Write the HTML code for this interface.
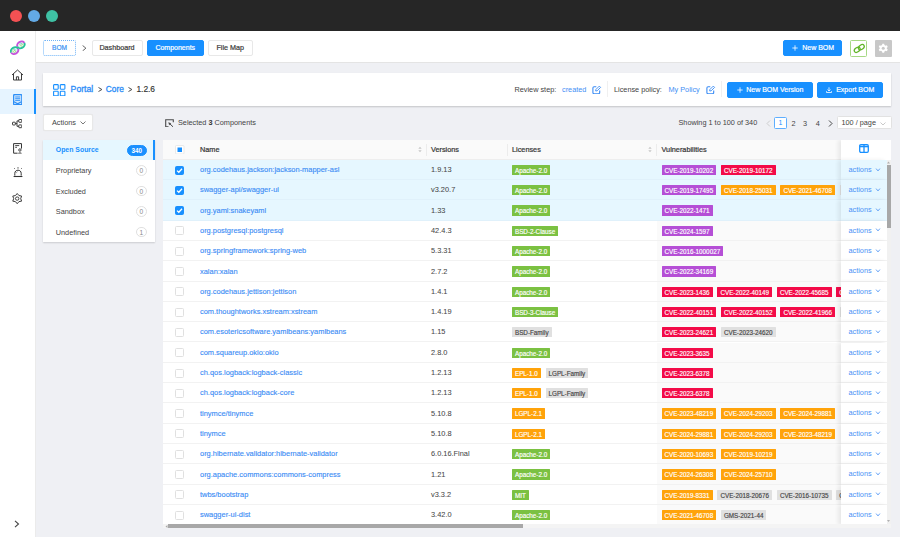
<!DOCTYPE html>
<html><head><meta charset="utf-8">
<style>
*{box-sizing:border-box;margin:0;padding:0}
html,body{width:900px;height:537px;overflow:hidden;background:#eff0f4;font-family:"Liberation Sans",sans-serif;color:#333}
.abs{position:absolute}
#top{position:absolute;left:0;top:0;width:900px;height:30.6px;background:#262626}
.dot{position:absolute;top:10.2px;width:12px;height:12px;border-radius:50%}
#side{position:absolute;left:0;top:30.6px;width:36px;height:507px;background:#fff;border-right:1.5px solid #ebebeb;z-index:2}
#hdr{position:absolute;left:35px;top:31px;width:865px;height:32px;background:#fff;border-bottom:1px solid #e4e4e4}
.btn{position:absolute;height:16.5px;border:1px solid #e8e8e8;border-radius:2px;background:#fff;font-size:7.2px;font-weight:normal;-webkit-text-stroke:0.2px currentColor;color:#3a3a3a;text-align:center;line-height:14.5px;white-space:nowrap}
.bp{background:#1890ff;border-color:#1890ff;color:#fff;font-size:7px}
#card{position:absolute;left:43px;top:73px;width:848px;height:33px;background:#fff;box-shadow:0 1px 1.5px rgba(0,0,0,0.18)}
.txt{position:absolute;white-space:nowrap;font-size:7.3px;line-height:10px}
.lnk{color:#3f8ff5}
#cats{position:absolute;left:43px;top:139.5px;width:112px;height:102.5px;background:#fff;box-shadow:0 1px 1.5px rgba(0,0,0,0.15)}
.cat{position:absolute;left:0;width:112px;height:20.5px;font-size:7.3px;line-height:22px;color:#444;padding-left:12.8px}
.cat.on{background:#e6f7ff;color:#1890ff;font-weight:bold;font-size:6.9px;line-height:20.3px;border-right:2px solid #1890ff}
.cnt{position:absolute;right:8.5px;top:5.3px;line-height:9.6px!important;min-width:10.5px;height:10.5px;border:1px solid #e0e0e0;border-radius:6px;font-size:6.6px;line-height:8.5px;text-align:center;color:#888;font-weight:normal}
.cat.on .cnt{background:#1890ff;border-color:#1890ff;color:#fff;width:19.5px;right:6.5px;font-weight:bold;font-size:6.3px;top:5.5px}
#tbl{position:absolute;left:163px;top:139.5px;width:728px;height:388.5px;background:#fff;overflow:hidden}
#thead{position:absolute;left:0;top:0;width:728px;height:20.3px;background:#fafafa;border-bottom:1px solid #eeeeee}
.th{position:absolute;top:0;height:19.8px;line-height:20.3px;font-size:7.3px;font-weight:normal;-webkit-text-stroke:0.22px #383838;color:#383838;white-space:nowrap}
.vd{position:absolute;top:4px;width:1px;height:12px;background:#ececec}
.row{position:absolute;left:163px;width:724px;height:20.3px;background:#fff;border-bottom:1px solid #f2f2f2;font-size:7.3px;white-space:nowrap;overflow:hidden}
.row.sel{background:#e6f7ff;border-bottom-color:#e0f1fb}
.row .vb{position:absolute;left:494px;top:0;width:240px;height:20px;background:#fafafa}
.row.sel .vb{background:#e6f7ff}
.row>div{position:absolute;top:0;height:20px;line-height:20px}
.c0{left:12px}
.c1{left:37px;color:#3a8cf5;margin-top:0.3px;font-size:7.45px;-webkit-text-stroke:0.12px #3a8cf5}
.c2{left:268px;color:#484848;margin-top:0.3px;font-size:7.4px;-webkit-text-stroke:0.05px #484848}
.c3{left:349px}
.c4{left:498.5px}
.cb{position:absolute;top:5.8px;left:0;width:9px;height:9px;border:1px solid #e0e0e0;border-radius:1.5px;background:#fff}
.cb.on{background:#1890ff;border-color:#1890ff}
.cb svg{position:absolute;left:-1px;top:-1px}
.tag{display:inline-block;vertical-align:top;margin-top:5px;height:10.3px;line-height:11.1px;overflow:hidden;font-size:6.3px;padding:0 2.97px;margin-right:4.85px;border-radius:0.5px;color:#fff;-webkit-text-stroke:0.15px #fff}
.tx{-webkit-text-stroke:0.15px #444}
.tg{background:#7bc142}
.tp{background:#b54fd6}
.tr{background:#f30b48}
.to{background:#ffa30a}
.tx{background:#e0e0e0;color:#444}
.arow{position:absolute;left:840.5px;width:46px;height:20.3px;background:#fff;border-bottom:1px solid #f2f2f2;box-shadow:-3px 0 4px rgba(0,0,0,0.07)}
.arow.sel{background:#e6f7ff;border-bottom-color:#e0f1fb}
.act{position:absolute;left:8px;top:0;line-height:20px;font-size:7.3px;color:#4b92f5}
.chev{position:absolute;left:34.2px;top:7.8px}
</style></head><body>
<div id="top">
 <div class="dot" style="left:9.8px;background:#f45153"></div>
 <div class="dot" style="left:28px;background:#63aae6"></div>
 <div class="dot" style="left:46.2px;background:#3fc1a4"></div>
</div>

<div id="side">
 <!-- logo -->
 <svg class="abs" style="left:9.5px;top:9.6px" width="16" height="16" viewBox="0 0 17 17">
 <g transform="rotate(-30 11.6 5.2)">
  <ellipse cx="11.6" cy="5.2" rx="4.2" ry="3.4" fill="#dff3f0"/>
  <path d="M7.4 5.2 A4.2 3.4 0 0 1 15.8 5.2" stroke="#c654dc" stroke-width="2" fill="none"/>
  <path d="M15.8 5.2 A4.2 3.4 0 0 1 7.4 5.2" stroke="#27c39a" stroke-width="2" fill="none"/>
 </g>
 <g transform="rotate(-30 4.9 11.3)">
  <ellipse cx="4.9" cy="11.3" rx="4.2" ry="3.4" fill="#dff3f0"/>
  <path d="M0.7 11.3 A4.2 3.4 0 0 1 9.1 11.3" stroke="#27c39a" stroke-width="2" fill="none"/>
  <path d="M9.1 11.3 A4.2 3.4 0 0 1 0.7 11.3" stroke="#c654dc" stroke-width="2" fill="none"/>
 </g>
 <path d="M10 4.5 L13 7 M12 3.5 L14.5 5.5" stroke="#9be05a" stroke-width="0.9"/>
 <path d="M3.5 10 L6.5 12.6 M2.5 11.5 L5 13.5" stroke="#9be05a" stroke-width="0.9"/>
 <path d="M11 3.2 L12.5 4.5 M4.5 9.5 L6 10.8" stroke="#4aa8f0" stroke-width="0.9"/>
 </svg>
 <!-- home -->
 <svg class="abs" style="left:11px;top:38px" width="13" height="12" viewBox="0 0 13 12">
  <path d="M1 6 L6.5 1 L12 6 M2.5 4.8 V11 H10.5 V4.8 M5.4 11 V7.8 H7.6 V11" stroke="#3a3a3a" stroke-width="1" fill="none" stroke-linejoin="round"/>
 </svg>
 <!-- active -->
 <div class="abs" style="left:0;top:58.3px;width:35.5px;height:24.7px;background:#e6f4ff;border-right:2px solid #1890ff"></div>
 <svg class="abs" style="left:12.8px;top:63.2px" width="9.4" height="11.2" viewBox="0 0 9.4 11.2">
  <rect x="0" y="0" width="9.4" height="11.2" rx="1.3" fill="#2d8ff7"/>
  <rect x="1.2" y="1.2" width="7" height="8.8" rx="0.6" fill="#cfe6fd"/>
  <path d="M2.2 3 H7.2 M2.2 4.7 H7.2 M2.2 6.4 H7.2" stroke="#2d8ff7" stroke-width="0.9"/>
  <path d="M1 7.8 L4.7 9.8 L8.4 7.8" stroke="#2d8ff7" stroke-width="1.1" fill="none"/>
 </svg>
 <!-- tree -->
 <svg class="abs" style="left:12px;top:88.8px" width="10.4" height="9.2" viewBox="0 0 10.4 9.2">
  <rect x="0.5" y="3.2" width="2.8" height="2.8" rx="0.5" stroke="#333" stroke-width="0.95" fill="none"/>
  <rect x="6.8" y="0.5" width="3" height="2.8" rx="0.5" stroke="#333" stroke-width="0.95" fill="none"/>
  <rect x="6.8" y="5.9" width="3" height="2.8" rx="0.5" stroke="#333" stroke-width="0.95" fill="none"/>
  <path d="M3.3 4.6 H5 M5 1.9 V7.3 M5 1.9 H6.8 M5 7.3 H6.8" stroke="#333" stroke-width="0.95" fill="none"/>
 </svg>
 <!-- report -->
 <svg class="abs" style="left:12.8px;top:112.8px" width="9.2" height="10.8" viewBox="0 0 9.2 10.8">
  <path d="M4.6 10.2 H0.6 V0.6 H8.5 V5.6" stroke="#333" stroke-width="1" fill="none"/>
  <path d="M2.2 2.6 H6.2 M2.2 4.3 H4" stroke="#333" stroke-width="0.9" fill="none"/>
  <circle cx="6.9" cy="7" r="1.2" stroke="#333" stroke-width="0.9" fill="none"/>
  <path d="M4.9 10.6 C5 9 8.8 9 8.9 10.6 Z" fill="#333"/>
 </svg>
 <!-- alarm -->
 <svg class="abs" style="left:12.6px;top:136.8px" width="10" height="10.6" viewBox="0 0 10 10.6">
  <path d="M1.8 8.6 V6.4 C1.8 4.3 3.3 3.2 5 3.2 C6.7 3.2 8.2 4.3 8.2 6.4 V8.6" stroke="#333" stroke-width="1" fill="none"/>
  <path d="M3.2 6.2 C3.3 5.2 3.9 4.7 4.7 4.6" stroke="#999" stroke-width="0.8" fill="none"/>
  <path d="M0.6 9.5 H9.4" stroke="#333" stroke-width="1.1" fill="none"/>
  <path d="M5 0.2 V1.6 M1.3 1.3 L2 2 M8.7 1.3 L8 2" stroke="#333" stroke-width="0.9" fill="none"/>
 </svg>
 <!-- gear -->
 <svg class="abs" style="left:12.1px;top:162.2px" width="10.4" height="11.2" viewBox="0 0 10.4 11.2">
  <path d="M5.20 0.50 L6.95 2.57 L9.62 3.05 L8.70 5.60 L9.62 8.15 L6.95 8.63 L5.20 10.70 L3.45 8.63 L0.78 8.15 L1.70 5.60 L0.78 3.05 L3.45 2.57 Z" stroke="#333" stroke-width="0.95" fill="none" stroke-linejoin="round"/>
  <circle cx="5.2" cy="5.6" r="1.7" stroke="#333" stroke-width="0.9" fill="none"/>
 </svg>
 <!-- chevron -->
 <svg class="abs" style="left:14px;top:489px" width="6" height="8" viewBox="0 0 6 8">
  <path d="M1 0.8 L4.5 4 L1 7.2" stroke="#444" stroke-width="1.1" fill="none"/>
 </svg>
</div>

<div id="hdr"></div>
<div class="btn" style="left:43px;top:39.5px;width:33px;height:16.8px;line-height:14.8px;border:1px dotted #6fb3f7;color:#3d93f2;font-size:6.6px">BOM</div>
<svg class="abs" style="left:81.8px;top:44.6px" width="4.6" height="6.4" viewBox="0 0 4.6 6.4"><path d="M0.6 0.5 L3.9 3.2 L0.6 5.9" stroke="#555" stroke-width="0.9" fill="none"/></svg>
<div class="btn" style="left:91.5px;top:39.5px;width:51px">Dashboard</div>
<div class="btn bp" style="left:146.5px;top:39.5px;width:57.5px">Components</div>
<div class="btn" style="left:208px;top:39.5px;width:44.5px">File Map</div>

<div class="btn bp" style="left:783px;top:40px;width:59px;height:16px;line-height:14px">
 <svg style="position:absolute;left:8.2px;top:3.6px" width="6" height="6" viewBox="0 0 6 6"><path d="M3 0.3 V5.7 M0.3 3 H5.7" stroke="#fff" stroke-width="0.8"/></svg>
 <span style="position:absolute;left:18.2px;top:0">New BOM</span>
</div>
<div class="abs" style="left:850px;top:40.2px;width:17.4px;height:17.2px;border:1px solid #a6d884;border-radius:1.5px;background:#fff">
 <svg style="position:absolute;left:1.2px;top:2.2px;overflow:visible" width="13" height="11" viewBox="0 0 12 10">
  <ellipse cx="4.8" cy="6.2" rx="3" ry="2" transform="rotate(-35 4.8 6.2)" stroke="#62b52a" stroke-width="1.15" fill="none"/>
  <ellipse cx="8.6" cy="3.8" rx="3" ry="2" transform="rotate(-35 8.6 3.8)" stroke="#62b52a" stroke-width="1.15" fill="none"/>
 </svg>
</div>
<div class="abs" style="left:875px;top:40px;width:16.5px;height:16.5px;background:#c8c8c8;border-radius:1px">
 <svg style="position:absolute;left:3px;top:3px" width="10.5" height="10.5" viewBox="0 0 13 13">
  <path d="M5.4 1 H7.6 L8 2.6 L9.4 3.4 L11 2.9 L12.1 4.8 L10.9 6 V7 L12.1 8.2 L11 10.1 L9.4 9.6 L8 10.4 L7.6 12 H5.4 L5 10.4 L3.6 9.6 L2 10.1 L0.9 8.2 L2.1 7 V6 L0.9 4.8 L2 2.9 L3.6 3.4 L5 2.6 Z" fill="#fff"/>
  <circle cx="6.5" cy="6.5" r="1.9" fill="#c8c8c8"/>
 </svg>
</div>

<div id="card"></div>
<svg class="abs" style="left:53px;top:83.5px" width="12.5" height="12.5" viewBox="0 0 12.5 12.5">
 <rect x="0.6" y="0.6" width="4.6" height="4.6" rx="0.6" stroke="#1890ff" stroke-width="1.1" fill="none"/>
 <rect x="7.3" y="0.6" width="4.6" height="4.6" rx="0.6" stroke="#1890ff" stroke-width="1.1" fill="none"/>
 <rect x="0.6" y="7.3" width="4.6" height="4.6" rx="0.6" stroke="#1890ff" stroke-width="1.1" fill="none"/>
 <rect x="7.3" y="7.3" width="4.6" height="4.6" rx="0.6" stroke="#1890ff" stroke-width="1.1" fill="none"/>
</svg>
<div class="txt lnk" style="left:70.6px;top:82.8px;font-size:8.7px;line-height:12px;color:#2b8cf7;-webkit-text-stroke:0.3px #2b8cf7">Portal</div>
<svg class="abs" style="left:98px;top:87.4px" width="4.5" height="5" viewBox="0 0 4.5 5"><path d="M0.5 0.5 L3.9 2.5 L0.5 4.5" stroke="#444" stroke-width="0.95" fill="none"/></svg>
<div class="txt lnk" style="left:105.8px;top:82.8px;font-size:8.3px;line-height:12px;color:#2b8cf7;-webkit-text-stroke:0.3px #2b8cf7">Core</div>
<svg class="abs" style="left:127.8px;top:87.4px" width="4.5" height="5" viewBox="0 0 4.5 5"><path d="M0.5 0.5 L3.9 2.5 L0.5 4.5" stroke="#444" stroke-width="0.95" fill="none"/></svg>
<div class="txt" style="left:136.4px;top:82.8px;font-size:8.4px;line-height:12px;color:#333;-webkit-text-stroke:0.15px #333">1.2.6</div>

<div class="txt" style="left:514.5px;top:84.5px;color:#444">Review step:</div>
<div class="txt lnk" style="left:562px;top:84.5px">created</div>
<svg class="abs" style="left:592px;top:84.8px" width="9.5" height="9.5" viewBox="0 0 9.5 9.5"><path d="M4.3 1.7 H2.1 Q0.9 1.7 0.9 2.9 V7.5 Q0.9 8.7 2.1 8.7 H6.5 Q7.7 8.7 7.7 7.5 V5.6" stroke="#3a8cf5" stroke-width="1.1" fill="none"/><path d="M3.7 6 L3.9 4.5 L7.3 1.1 L8.6 2.4 L5.2 5.8 Z" stroke="#3a8cf5" stroke-width="0.9" fill="none" stroke-linejoin="round"/></svg>
<div class="abs" style="left:607px;top:81px;width:1px;height:15.7px;background:#f0f0f0"></div>
<div class="txt" style="left:614px;top:84.5px;color:#444">License policy:</div>
<div class="txt lnk" style="left:668.5px;top:84.5px">My Policy</div>
<svg class="abs" style="left:706px;top:84.8px" width="9.5" height="9.5" viewBox="0 0 9.5 9.5"><path d="M4.3 1.7 H2.1 Q0.9 1.7 0.9 2.9 V7.5 Q0.9 8.7 2.1 8.7 H6.5 Q7.7 8.7 7.7 7.5 V5.6" stroke="#3a8cf5" stroke-width="1.1" fill="none"/><path d="M3.7 6 L3.9 4.5 L7.3 1.1 L8.6 2.4 L5.2 5.8 Z" stroke="#3a8cf5" stroke-width="0.9" fill="none" stroke-linejoin="round"/></svg>
<div class="abs" style="left:720.5px;top:81px;width:1px;height:15.7px;background:#f0f0f0"></div>
<div class="btn bp" style="left:727px;top:81.5px;width:86px;height:16.5px">
 <svg style="position:absolute;left:8.8px;top:4.8px" width="6" height="6" viewBox="0 0 6 6"><path d="M3 0.3 V5.7 M0.3 3 H5.7" stroke="#fff" stroke-width="0.8"/></svg>
 <span style="position:absolute;left:18.2px;top:0">New BOM Version</span>
</div>
<div class="btn bp" style="left:817px;top:81.5px;width:66px;height:16.5px">
 <svg style="position:absolute;left:7.8px;top:4.6px" width="6" height="6" viewBox="0 0 6 6"><path d="M3 0.3 V4 M1.5 2.6 L3 4 L4.5 2.6 M0.5 4.2 V5.5 H5.5 V4.2" stroke="#fff" stroke-width="0.8" fill="none"/></svg>
 <span style="position:absolute;left:18.2px;top:0">Export BOM</span>
</div>

<!-- toolbar -->
<div class="btn" style="left:43px;top:114.2px;width:50px;height:16.6px;line-height:15.6px;font-weight:normal;color:#444;-webkit-text-stroke:0;text-align:left;padding-left:8px;font-size:7.3px;box-shadow:0 0 1px rgba(0,0,0,0.08)">Actions
 <svg style="position:absolute;left:36.3px;top:5.7px" width="6" height="4" viewBox="0 0 6 4"><path d="M0.5 0.5 L3 3 L5.5 0.5" stroke="#555" stroke-width="0.8" fill="none"/></svg>
</div>
<svg class="abs" style="left:165px;top:118.7px" width="9" height="8.5" viewBox="0 0 9 8.5"><path d="M3.5 7.8 H0.7 V0.7 H8.3 V3.2" stroke="#4a4a4a" stroke-width="1.1" fill="none"/><path d="M4 4 L8 7.8" stroke="#4a4a4a" stroke-width="1" fill="none"/><path d="M3.3 3.3 L6.2 4.2 L4.2 6.2 Z" fill="#4a4a4a"/></svg>
<div class="txt" style="left:178px;top:118px;color:#444">Selected <b style="color:#333">3</b> Components</div>

<div class="txt" style="left:678.5px;top:118px;color:#444">Showing 1 to 100 of 340</div>
<svg class="abs" style="left:766px;top:119.5px" width="5" height="7" viewBox="0 0 5 7"><path d="M4 0.5 L1 3.5 L4 6.5" stroke="#c4c4c4" stroke-width="0.8" fill="none"/></svg>
<div class="abs" style="left:774.2px;top:116.8px;width:12.6px;height:12.6px;border:1px solid #5eaeff;border-radius:1.5px;background:#fff;font-size:7px;line-height:10.5px;text-align:center;color:#1890ff">1</div>
<div class="txt" style="left:791.6px;top:118.5px;color:#444;font-size:7.3px">2</div>
<div class="txt" style="left:803px;top:118.5px;color:#444;font-size:7.3px">3</div>
<div class="txt" style="left:815.8px;top:118.5px;color:#444;font-size:7.3px">4</div>
<svg class="abs" style="left:827.5px;top:119.5px" width="5" height="7" viewBox="0 0 5 7"><path d="M1 0.5 L4 3.5 L1 6.5" stroke="#333" stroke-width="0.9" fill="none"/></svg>
<div class="abs" style="left:837.3px;top:116.2px;width:54.5px;height:12.8px;border:1px solid #e2e2e2;border-radius:1.5px;background:#fff"></div>
<div class="txt" style="left:841.5px;top:118px;color:#444">100 / page</div>
<svg class="abs" style="left:880px;top:121.5px" width="6" height="4" viewBox="0 0 6 4"><path d="M0.5 0.5 L3 3 L5.5 0.5" stroke="#bbb" stroke-width="0.8" fill="none"/></svg>

<!-- categories -->
<div id="cats">
 <div class="cat on" style="top:0">Open Source<span class="cnt">340</span></div>
 <div class="cat" style="top:20.5px">Proprietary<span class="cnt">0</span></div>
 <div class="cat" style="top:41px">Excluded<span class="cnt">0</span></div>
 <div class="cat" style="top:61.5px">Sandbox<span class="cnt">0</span></div>
 <div class="cat" style="top:82px">Undefined<span class="cnt">1</span></div>
</div>

<!-- table -->
<div id="tbl">
 <div id="thead">
  <svg class="abs" style="left:12px;top:5px" width="9.5" height="9.5" viewBox="0 0 9.5 9.5"><rect x="0.5" y="0.5" width="8.5" height="8.5" rx="1" fill="#fff" stroke="#e6e6e6" stroke-width="0.9"/><rect x="2.5" y="2.5" width="4.5" height="4.5" fill="#1890ff"/></svg>
  <div class="th" style="left:37px">Name</div>
  <svg class="abs" style="left:255px;top:6.5px" width="4" height="7" viewBox="0 0 4 7"><path d="M0.3 2.8 L2 0.8 L3.7 2.8 Z M0.3 4.2 L2 6.2 L3.7 4.2 Z" fill="#c8c8c8"/></svg>
  <div class="vd" style="left:262.8px"></div>
  <div class="th" style="left:268px">Versions</div>
  <div class="vd" style="left:343.9px"></div>
  <div class="th" style="left:349px">Licenses</div>
  <svg class="abs" style="left:485px;top:6.5px" width="4" height="7" viewBox="0 0 4 7"><path d="M0.3 2.8 L2 0.8 L3.7 2.8 Z M0.3 4.2 L2 6.2 L3.7 4.2 Z" fill="#c8c8c8"/></svg>
  <div class="vd" style="left:493px"></div>
  <div class="th" style="left:498.5px">Vulnerabilities</div>
 </div>
 <div class="abs" style="left:677.5px;top:0;width:50.5px;height:20.3px;background:#fff;box-shadow:-3px 0 4px rgba(0,0,0,0.07)"></div>
 <svg class="abs" style="left:696px;top:4.5px" width="10" height="9" viewBox="0 0 10 9"><rect x="0.7" y="0.7" width="8.6" height="7.6" rx="1.2" stroke="#1890ff" stroke-width="1.3" fill="none"/><path d="M5 1 V8" stroke="#1890ff" stroke-width="1.3"/><path d="M1 2.5 H9" stroke="#1890ff" stroke-width="1.6"/></svg>
</div>
<div class="row sel" style="top:159.80px">
<div class="vb"></div><div class="c0"><span class="cb on"><svg width="9" height="9" viewBox="0 0 9 9"><path d="M2 4.6 L3.8 6.3 L7 2.8" stroke="#fff" stroke-width="1.3" fill="none"/></svg></span></div><div class="c1">org.codehaus.jackson:jackson-mapper-asl</div><div class="c2">1.9.13</div><div class="c3"><span class="tag tg">Apache-2.0</span></div><div class="c4"><span class="tag tp">CVE-2019-10202</span><span class="tag tr">CVE-2019-10172</span></div>
</div>
<div class="arow sel" style="top:159.80px"><span class="act">actions</span><svg class="chev" width="6" height="4" viewBox="0 0 6 4"><path d="M1.1 0.6 L3 2.9 L4.9 0.6" stroke="#4b92f5" stroke-width="0.85" fill="none"/></svg></div>
<div class="row sel" style="top:180.10px">
<div class="vb"></div><div class="c0"><span class="cb on"><svg width="9" height="9" viewBox="0 0 9 9"><path d="M2 4.6 L3.8 6.3 L7 2.8" stroke="#fff" stroke-width="1.3" fill="none"/></svg></span></div><div class="c1">swagger-api/swagger-ui</div><div class="c2">v3.20.7</div><div class="c3"><span class="tag tg">Apache-2.0</span></div><div class="c4"><span class="tag tp">CVE-2019-17495</span><span class="tag to">CVE-2018-25031</span><span class="tag to">CVE-2021-46708</span><span class="tag tx">CVE-2019-1</span></div>
</div>
<div class="arow sel" style="top:180.10px"><span class="act">actions</span><svg class="chev" width="6" height="4" viewBox="0 0 6 4"><path d="M1.1 0.6 L3 2.9 L4.9 0.6" stroke="#4b92f5" stroke-width="0.85" fill="none"/></svg></div>
<div class="row sel" style="top:200.40px">
<div class="vb"></div><div class="c0"><span class="cb on"><svg width="9" height="9" viewBox="0 0 9 9"><path d="M2 4.6 L3.8 6.3 L7 2.8" stroke="#fff" stroke-width="1.3" fill="none"/></svg></span></div><div class="c1">org.yaml:snakeyaml</div><div class="c2">1.33</div><div class="c3"><span class="tag tg">Apache-2.0</span></div><div class="c4"><span class="tag tp">CVE-2022-1471</span></div>
</div>
<div class="arow sel" style="top:200.40px"><span class="act">actions</span><svg class="chev" width="6" height="4" viewBox="0 0 6 4"><path d="M1.1 0.6 L3 2.9 L4.9 0.6" stroke="#4b92f5" stroke-width="0.85" fill="none"/></svg></div>
<div class="row" style="top:220.70px">
<div class="vb"></div><div class="c0"><span class="cb"></span></div><div class="c1">org.postgresql:postgresql</div><div class="c2">42.4.3</div><div class="c3"><span class="tag tg">BSD-2-Clause</span></div><div class="c4"><span class="tag tp">CVE-2024-1597</span></div>
</div>
<div class="arow" style="top:220.70px"><span class="act">actions</span><svg class="chev" width="6" height="4" viewBox="0 0 6 4"><path d="M1.1 0.6 L3 2.9 L4.9 0.6" stroke="#4b92f5" stroke-width="0.85" fill="none"/></svg></div>
<div class="row" style="top:241.00px">
<div class="vb"></div><div class="c0"><span class="cb"></span></div><div class="c1">org.springframework:spring-web</div><div class="c2">5.3.31</div><div class="c3"><span class="tag tg">Apache-2.0</span></div><div class="c4"><span class="tag tp">CVE-2016-1000027</span></div>
</div>
<div class="arow" style="top:241.00px"><span class="act">actions</span><svg class="chev" width="6" height="4" viewBox="0 0 6 4"><path d="M1.1 0.6 L3 2.9 L4.9 0.6" stroke="#4b92f5" stroke-width="0.85" fill="none"/></svg></div>
<div class="row" style="top:261.30px">
<div class="vb"></div><div class="c0"><span class="cb"></span></div><div class="c1">xalan:xalan</div><div class="c2">2.7.2</div><div class="c3"><span class="tag tg">Apache-2.0</span></div><div class="c4"><span class="tag tp">CVE-2022-34169</span></div>
</div>
<div class="arow" style="top:261.30px"><span class="act">actions</span><svg class="chev" width="6" height="4" viewBox="0 0 6 4"><path d="M1.1 0.6 L3 2.9 L4.9 0.6" stroke="#4b92f5" stroke-width="0.85" fill="none"/></svg></div>
<div class="row" style="top:281.60px">
<div class="vb"></div><div class="c0"><span class="cb"></span></div><div class="c1">org.codehaus.jettison:jettison</div><div class="c2">1.4.1</div><div class="c3"><span class="tag tg">Apache-2.0</span></div><div class="c4"><span class="tag tr">CVE-2023-1436</span><span class="tag tr">CVE-2022-40149</span><span class="tag tr">CVE-2022-45685</span><span class="tag tr">CVE-2022-4</span></div>
</div>
<div class="arow" style="top:281.60px"><span class="act">actions</span><svg class="chev" width="6" height="4" viewBox="0 0 6 4"><path d="M1.1 0.6 L3 2.9 L4.9 0.6" stroke="#4b92f5" stroke-width="0.85" fill="none"/></svg></div>
<div class="row" style="top:301.90px">
<div class="vb"></div><div class="c0"><span class="cb"></span></div><div class="c1">com.thoughtworks.xstream:xstream</div><div class="c2">1.4.19</div><div class="c3"><span class="tag tg">BSD-3-Clause</span></div><div class="c4"><span class="tag tr">CVE-2022-40151</span><span class="tag tr">CVE-2022-40152</span><span class="tag tr">CVE-2022-41966</span><span class="tag tx">CVE-2022-4</span></div>
</div>
<div class="arow" style="top:301.90px"><span class="act">actions</span><svg class="chev" width="6" height="4" viewBox="0 0 6 4"><path d="M1.1 0.6 L3 2.9 L4.9 0.6" stroke="#4b92f5" stroke-width="0.85" fill="none"/></svg></div>
<div class="row" style="top:322.20px">
<div class="vb"></div><div class="c0"><span class="cb"></span></div><div class="c1">com.esotericsoftware.yamlbeans:yamlbeans</div><div class="c2">1.15</div><div class="c3"><span class="tag tx">BSD-Family</span></div><div class="c4"><span class="tag tr">CVE-2023-24621</span><span class="tag tx">CVE-2023-24620</span></div>
</div>
<div class="arow" style="top:322.20px"><span class="act">actions</span><svg class="chev" width="6" height="4" viewBox="0 0 6 4"><path d="M1.1 0.6 L3 2.9 L4.9 0.6" stroke="#4b92f5" stroke-width="0.85" fill="none"/></svg></div>
<div class="row" style="top:342.50px">
<div class="vb"></div><div class="c0"><span class="cb"></span></div><div class="c1">com.squareup.okio:okio</div><div class="c2">2.8.0</div><div class="c3"><span class="tag tg">Apache-2.0</span></div><div class="c4"><span class="tag tr">CVE-2023-3635</span></div>
</div>
<div class="arow" style="top:342.50px"><span class="act">actions</span><svg class="chev" width="6" height="4" viewBox="0 0 6 4"><path d="M1.1 0.6 L3 2.9 L4.9 0.6" stroke="#4b92f5" stroke-width="0.85" fill="none"/></svg></div>
<div class="row" style="top:362.80px">
<div class="vb"></div><div class="c0"><span class="cb"></span></div><div class="c1">ch.qos.logback:logback-classic</div><div class="c2">1.2.13</div><div class="c3"><span class="tag to">EPL-1.0</span><span class="tag tx">LGPL-Family</span></div><div class="c4"><span class="tag tr">CVE-2023-6378</span></div>
</div>
<div class="arow" style="top:362.80px"><span class="act">actions</span><svg class="chev" width="6" height="4" viewBox="0 0 6 4"><path d="M1.1 0.6 L3 2.9 L4.9 0.6" stroke="#4b92f5" stroke-width="0.85" fill="none"/></svg></div>
<div class="row" style="top:383.10px">
<div class="vb"></div><div class="c0"><span class="cb"></span></div><div class="c1">ch.qos.logback:logback-core</div><div class="c2">1.2.13</div><div class="c3"><span class="tag to">EPL-1.0</span><span class="tag tx">LGPL-Family</span></div><div class="c4"><span class="tag tr">CVE-2023-6378</span></div>
</div>
<div class="arow" style="top:383.10px"><span class="act">actions</span><svg class="chev" width="6" height="4" viewBox="0 0 6 4"><path d="M1.1 0.6 L3 2.9 L4.9 0.6" stroke="#4b92f5" stroke-width="0.85" fill="none"/></svg></div>
<div class="row" style="top:403.40px">
<div class="vb"></div><div class="c0"><span class="cb"></span></div><div class="c1">tinymce/tinymce</div><div class="c2">5.10.8</div><div class="c3"><span class="tag to">LGPL-2.1</span></div><div class="c4"><span class="tag to">CVE-2023-48219</span><span class="tag to">CVE-2024-29203</span><span class="tag to">CVE-2024-29881</span></div>
</div>
<div class="arow" style="top:403.40px"><span class="act">actions</span><svg class="chev" width="6" height="4" viewBox="0 0 6 4"><path d="M1.1 0.6 L3 2.9 L4.9 0.6" stroke="#4b92f5" stroke-width="0.85" fill="none"/></svg></div>
<div class="row" style="top:423.70px">
<div class="vb"></div><div class="c0"><span class="cb"></span></div><div class="c1">tinymce</div><div class="c2">5.10.8</div><div class="c3"><span class="tag to">LGPL-2.1</span></div><div class="c4"><span class="tag to">CVE-2024-29881</span><span class="tag to">CVE-2024-29203</span><span class="tag to">CVE-2023-48219</span></div>
</div>
<div class="arow" style="top:423.70px"><span class="act">actions</span><svg class="chev" width="6" height="4" viewBox="0 0 6 4"><path d="M1.1 0.6 L3 2.9 L4.9 0.6" stroke="#4b92f5" stroke-width="0.85" fill="none"/></svg></div>
<div class="row" style="top:444.00px">
<div class="vb"></div><div class="c0"><span class="cb"></span></div><div class="c1">org.hibernate.validator:hibernate-validator</div><div class="c2">6.0.16.Final</div><div class="c3"><span class="tag tg">Apache-2.0</span></div><div class="c4"><span class="tag to">CVE-2020-10693</span><span class="tag to">CVE-2019-10219</span></div>
</div>
<div class="arow" style="top:444.00px"><span class="act">actions</span><svg class="chev" width="6" height="4" viewBox="0 0 6 4"><path d="M1.1 0.6 L3 2.9 L4.9 0.6" stroke="#4b92f5" stroke-width="0.85" fill="none"/></svg></div>
<div class="row" style="top:464.30px">
<div class="vb"></div><div class="c0"><span class="cb"></span></div><div class="c1">org.apache.commons:commons-compress</div><div class="c2">1.21</div><div class="c3"><span class="tag tg">Apache-2.0</span></div><div class="c4"><span class="tag to">CVE-2024-26308</span><span class="tag to">CVE-2024-25710</span></div>
</div>
<div class="arow" style="top:464.30px"><span class="act">actions</span><svg class="chev" width="6" height="4" viewBox="0 0 6 4"><path d="M1.1 0.6 L3 2.9 L4.9 0.6" stroke="#4b92f5" stroke-width="0.85" fill="none"/></svg></div>
<div class="row" style="top:484.60px">
<div class="vb"></div><div class="c0"><span class="cb"></span></div><div class="c1">twbs/bootstrap</div><div class="c2">v3.3.2</div><div class="c3"><span class="tag tg">MIT</span></div><div class="c4"><span class="tag to">CVE-2019-8331</span><span class="tag tx">CVE-2018-20676</span><span class="tag tx">CVE-2016-10735</span><span class="tag tx">CVE-2</span></div>
</div>
<div class="arow" style="top:484.60px"><span class="act">actions</span><svg class="chev" width="6" height="4" viewBox="0 0 6 4"><path d="M1.1 0.6 L3 2.9 L4.9 0.6" stroke="#4b92f5" stroke-width="0.85" fill="none"/></svg></div>
<div class="row" style="top:504.90px">
<div class="vb"></div><div class="c0"><span class="cb"></span></div><div class="c1">swagger-ui-dist</div><div class="c2">3.42.0</div><div class="c3"><span class="tag tg">Apache-2.0</span></div><div class="c4"><span class="tag to">CVE-2021-46708</span><span class="tag tx">GMS-2021-44</span></div>
</div>
<div class="arow" style="top:504.90px"><span class="act">actions</span><svg class="chev" width="6" height="4" viewBox="0 0 6 4"><path d="M1.1 0.6 L3 2.9 L4.9 0.6" stroke="#4b92f5" stroke-width="0.85" fill="none"/></svg></div>
<!-- v scrollbar -->
<div class="abs" style="left:886.5px;top:159.5px;width:4.5px;height:368px;background:#f1f1f1"></div>
<div class="abs" style="left:887px;top:165px;width:3.7px;height:63px;background:#a8a8a8"></div><svg class="abs" style="left:887.3px;top:161px" width="3" height="2.5" viewBox="0 0 3 2.5"><path d="M0 2.5 L1.5 0.5 L3 2.5Z" fill="#b0b0b0"/></svg>
<svg class="abs" style="left:887.3px;top:519.5px" width="3" height="2.5" viewBox="0 0 3 2.5"><path d="M0 0 L1.5 2 L3 0Z" fill="#b0b0b0"/></svg>
<!-- h scrollbar -->
<div class="abs" style="left:163px;top:524px;width:728px;height:4px;background:#f4f4f4"></div><svg class="abs" style="left:164.5px;top:524.5px" width="3" height="3" viewBox="0 0 3 3"><path d="M2.5 0 L0.5 1.5 L2.5 3Z" fill="#aaa"/></svg>
<div class="abs" style="left:168px;top:524.3px;width:354.5px;height:3.4px;background:#a8a8a8"></div>
</body></html>
